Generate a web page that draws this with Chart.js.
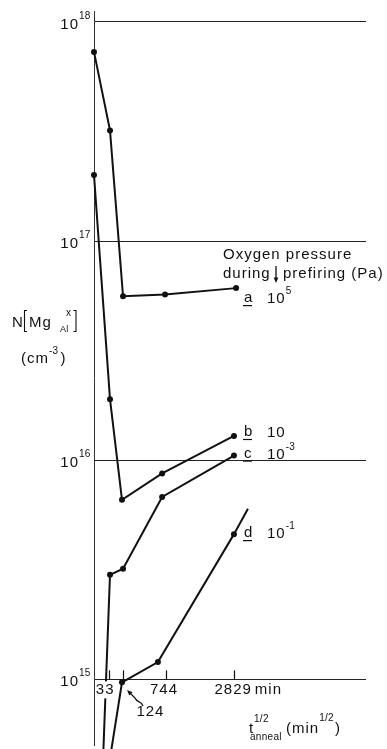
<!DOCTYPE html>
<html>
<head>
<meta charset="utf-8">
<script src="https://cdn.jsdelivr.net/npm/chart.js@4.4.0/dist/chart.umd.min.js"></script>
<style>
  html, body { margin: 0; padding: 0; background: #fff; }
  #wrap { width: 387px; height: 749px; }
</style>
</head>
<body>
<div id="wrap"><canvas id="grafico" width="387" height="749"></canvas></div>
<script>
// x = raiz do tempo de recozimento (min^1/2), y = N[Mg_Al^x] (cm^-3)
const xA = [0, 6.06, 11.0, 26.9, 53.8];
const yA = [7.3e17, 3.2e17, 5.6e16, 5.7e16, 6.1e16];
const xB = [0, 6.06, 10.6, 25.8, 53.0];
const yB = [2.0e17, 1.9e16, 6.6e15, 8.7e15, 1.29e16];
const xC = [0, 6.06, 11.0, 25.8, 53.0];
const yC = [3.5e13, 3.0e15, 3.2e15, 6.8e15, 1.05e16];
const xD = [0, 10.6, 24.2, 53.0, 58.3];
const yD = [1.5e14, 9.7e14, 1.2e15, 4.6e15, 6.0e15];

const rotulos = ['a', 'b', 'c', 'd'];
const expPressao = [5, 1, -3, -1]; // pressão de O2 na pré-queima: 10^exp Pa
const tempos = [33, 124, 744, 2829]; // min
const decadas = [1e15, 1e16, 1e17, 1e18];

const FONTE = '"Liberation Sans", Arial, sans-serif';
const TINTA = '#111';

function serie(xs, ys) {
  return xs.map((x, i) => ({ x: x, y: ys[i] }));
}

function texto(ctx, s, x, y, tam, align) {
  ctx.font = `${tam}px ${FONTE}`;
  try { ctx.letterSpacing = tam >= 14 ? '1px' : '0.3px'; } catch (e) {}
  ctx.textAlign = align || 'left';
  ctx.fillText(s, x, y);
  return ctx.measureText(s).width;
}

// "10" com expoente, alinhado à esquerda em x
function potencia(ctx, exp, x, y) {
  const w = texto(ctx, '10', x, y, 15);
  if (exp !== 1) texto(ctx, String(exp), x + w, y - 9, 10);
}

function seta(ctx, x1, y1, x2, y2) {
  const ang = Math.atan2(y2 - y1, x2 - x1);
  ctx.beginPath();
  ctx.moveTo(x2, y2);
  ctx.lineTo(x2 - 6 * Math.cos(ang - 0.4), y2 - 6 * Math.sin(ang - 0.4));
  ctx.lineTo(x2 - 6 * Math.cos(ang + 0.4), y2 - 6 * Math.sin(ang + 0.4));
  ctx.closePath();
  ctx.fill();
}

const textos = {
  id: 'textos',
  afterDraw(chart) {
    const ctx = chart.ctx;
    const xs = chart.scales.x;
    const ys = chart.scales.y;
    ctx.save();
    ctx.fillStyle = TINTA;
    ctx.strokeStyle = TINTA;
    ctx.textBaseline = 'alphabetic';

    // rótulos das décadas
    decadas.forEach(v => {
      const y = ys.getPixelForValue(v);
      texto(ctx, '10', 79, y + 7, 15, 'right');
      texto(ctx, String(Math.round(Math.log10(v))), 79, y - 3, 10);
    });

    // marcas do eixo do tempo sobre a linha de 10^15
    const yEixo = ys.getPixelForValue(decadas[0]);
    ctx.lineWidth = 1.2;
    tempos.forEach(t => {
      const x = Math.round(xs.getPixelForValue(Math.sqrt(t))) + 0.5;
      ctx.beginPath();
      ctx.moveTo(x, yEixo);
      ctx.lineTo(x, yEixo - 9);
      ctx.stroke();
    });
    const px = tempos.map(t => xs.getPixelForValue(Math.sqrt(t)));
    ctx.fillStyle = '#fff';
    ctx.fillRect(px[0] - 13, yEixo + 2, 18, 17);
    ctx.fillStyle = TINTA;
    texto(ctx, String(tempos[0]), px[0] - 4, yEixo + 15, 15, 'center');
    texto(ctx, String(tempos[2]), px[2] - 2, yEixo + 15, 15, 'center');
    const w = texto(ctx, String(tempos[3]), px[3] - 20, yEixo + 15, 15, 'left');
    texto(ctx, 'min', px[3] - 20 + w + 3, yEixo + 15, 15, 'left');
    texto(ctx, String(tempos[1]), px[1] + 27, yEixo + 37, 15, 'center');

    // seta ondulada do 124
    ctx.lineWidth = 1.3;
    ctx.beginPath();
    ctx.moveTo(143, 706);
    ctx.bezierCurveTo(141, 700, 137, 703, 135, 698);
    ctx.lineTo(130, 693);
    ctx.stroke();
    seta(ctx, 135, 698, 127, 690);

    // título do eixo x
    texto(ctx, 't', 249, 733, 15);
    texto(ctx, '1/2', 254, 722, 10);
    texto(ctx, 'anneal', 250, 740, 10);
    const wm = texto(ctx, '(min', 286, 733, 15);
    const wf = texto(ctx, '1/2', 286 + wm, 721, 10);
    texto(ctx, ')', 286 + wm + wf + 1, 733, 15);

    // título do eixo y
    texto(ctx, 'N', 12, 327, 15);
    texto(ctx, 'Mg', 29, 327, 15);
    const xi = 60;
    texto(ctx, 'x', xi + 6, 316, 10);
    const wal = texto(ctx, 'Al', xi, 332, 9);
    const xf = Math.max(76, xi + wal + 3);
    ctx.lineWidth = 1.1;
    ctx.beginPath();
    ctx.moveTo(27, 310.5); ctx.lineTo(24.5, 310.5); ctx.lineTo(24.5, 331.5); ctx.lineTo(27, 331.5);
    ctx.moveTo(xf - 2.5, 310.5); ctx.lineTo(xf, 310.5); ctx.lineTo(xf, 331.5); ctx.lineTo(xf - 2.5, 331.5);
    ctx.stroke();
    const wc = texto(ctx, '(cm', 21, 363, 15);
    const we = texto(ctx, '-3', 21 + wc, 354, 10);
    texto(ctx, ')', 21 + wc + we + 2, 363, 15);

    // legenda das curvas
    texto(ctx, 'Oxygen pressure', 223, 259, 15);
    texto(ctx, 'during', 223, 278, 15);
    texto(ctx, 'prefiring (Pa)', 283, 278, 15);
    ctx.lineWidth = 1.3;
    ctx.beginPath();
    ctx.moveTo(276, 266);
    ctx.lineTo(276, 278);
    ctx.stroke();
    seta(ctx, 276, 274, 276, 283);

    const desloc = [14, 0, 2, 3];
    chart.data.datasets.forEach((ds, i) => {
      const meta = chart.getDatasetMeta(i);
      const ult = meta.data[rotulos[i] === 'd' ? 3 : meta.data.length - 1];
      const y = ult.y + desloc[i];
      texto(ctx, rotulos[i], 244, y, 15);
      ctx.lineWidth = 1.2;
      ctx.beginPath();
      ctx.moveTo(243, y + 3.5);
      ctx.lineTo(252, y + 3.5);
      ctx.stroke();
      potencia(ctx, expPressao[i], 267, y + 1);
    });
    ctx.restore();
  }
};

const estilo = {
  borderColor: TINTA,
  backgroundColor: TINTA,
  borderWidth: 2,
  pointRadius: 3,
  pointBorderWidth: 0,
  pointBackgroundColor: TINTA,
  tension: 0,
  clip: false
};

new Chart(document.getElementById('grafico'), {
  type: 'line',
  data: {
    datasets: [
      Object.assign({ label: 'a', data: serie(xA, yA) }, estilo),
      Object.assign({ label: 'b', data: serie(xB, yB) }, estilo),
      Object.assign({ label: 'c', data: serie(xC, yC) }, estilo),
      Object.assign({ label: 'd', data: serie(xD, yD) }, estilo, { pointRadius: [3, 3, 3, 3, 0] })
    ]
  },
  options: {
    responsive: false,
    animation: false,
    events: [],
    layout: { padding: { left: 94, right: 21, top: 11, bottom: 0 } },
    plugins: { legend: { display: false }, tooltip: { enabled: false } },
    scales: {
      x: { type: 'linear', min: 0, max: 103, display: false },
      y: {
        type: 'logarithmic',
        min: Math.pow(10, 14.7005),
        max: Math.pow(10, 18.0499),
        afterBuildTicks: s => { s.ticks = decadas.map(v => ({ value: v })); },
        ticks: { display: false },
        grid: { color: '#222', lineWidth: 1, drawTicks: false },
        border: { display: true, color: '#333', width: 1 }
      }
    }
  },
  plugins: [textos]
});
</script>
</body>
</html>
